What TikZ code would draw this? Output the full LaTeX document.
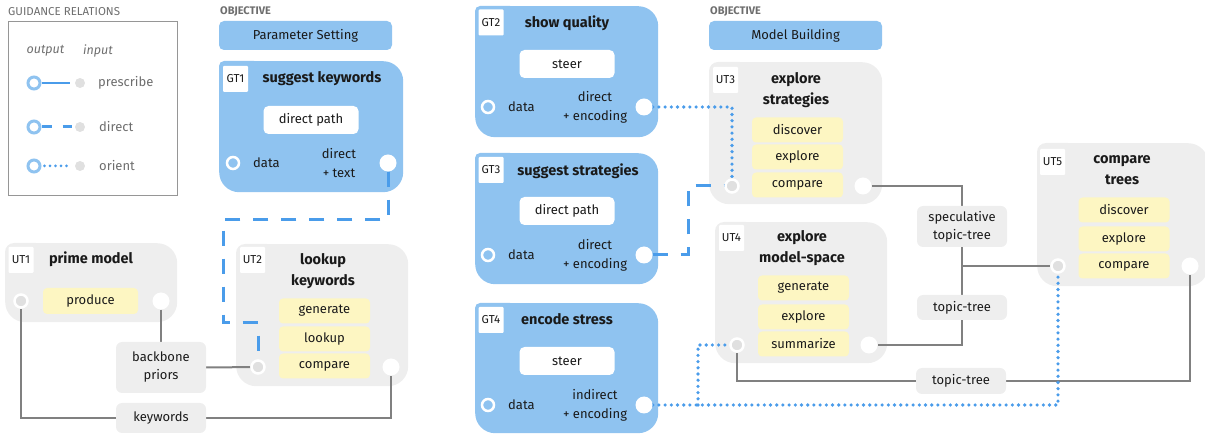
\documentclass[tikz,border=0pt]{standalone}
\usepackage{fontspec}
\setmainfont{Fira Sans}
\definecolor{gtblue}{RGB}{143,195,240}
\definecolor{lblue}{RGB}{74,156,234}
\definecolor{gfill}{RGB}{238,238,238}
\definecolor{ylw}{RGB}{253,246,194}
\definecolor{pgray}{RGB}{224,224,224}
\definecolor{lgray}{RGB}{128,128,128}
\definecolor{txt}{RGB}{26,26,26}
\definecolor{lgtxt}{RGB}{110,110,110}
\definecolor{legbox}{RGB}{150,150,150}
\pgfdeclarelayer{back}
\pgfdeclarelayer{mid}
\pgfsetlayers{back,mid,main}
\begin{document}
\begin{tikzpicture}[x=1pt,y=-1pt,
  every node/.style={inner sep=0pt, text=txt, font=\fontsize{13}{18}\selectfont},
  gtp/.style 2 args={fill=gtblue, rounded corners=20pt, anchor=north west, minimum width=#1, minimum height=#2},
  utp/.style 2 args={fill=gfill, rounded corners=20pt, anchor=north west, minimum width=#1, minimum height=#2},
  lbl/.style={fill=white, rounded corners=1pt, minimum width=25pt, minimum height=26pt, font=\fontsize{11.5}{13}\selectfont},
  ttl/.style={align=center, font=\fontsize{14.5}{21}\selectfont\bfseries},
  act/.style={fill=white, rounded corners=5pt, minimum width=95pt, minimum height=28pt},
  yel/.style={fill=ylw, rounded corners=4pt, minimum width=91pt, minimum height=25pt},
  gtag/.style={fill=gfill, rounded corners=6pt, minimum width=90pt, align=center},
  outp/.style={circle, fill=white, minimum size=17pt},
  inp/.style={circle, fill=pgray, draw=white, line width=2.5pt, minimum size=13pt},
  dport/.style={circle, fill=gtblue, draw=white, line width=2.5pt, minimum size=12pt},
  lout/.style={circle, fill=white, draw=gtblue, line width=3pt, minimum size=12pt},
  lin/.style={circle, fill=pgray, minimum size=10pt},
  gline/.style={draw=lgray, line width=2pt},
  dashc/.style={draw=lblue, line width=3pt, dash pattern=on 15pt off 13pt},
  dotc/.style={draw=lblue, line width=3.6pt, line cap=round, dash pattern=on 0pt off 6.2pt},
  gtxt/.style={align=center, font=\fontsize{13}{19}\selectfont},
]
\useasboundingbox (0,0) rectangle (1205,435);

% ---------- legend ----------
\node[anchor=west, text=lgtxt, font=\fontsize{11.5}{13}\selectfont] (legtitle) at (8,12) {GUIDANCE RELATIONS};
\node[draw=legbox, line width=1pt, anchor=north west, minimum width=169pt, minimum height=174pt] (legend) at (8,21) {};
\node[text=lgtxt, font=\fontsize{12.5}{15}\selectfont\itshape] (lout) at (45.5,51) {output};
\node[text=lgtxt, font=\fontsize{12.5}{15}\selectfont\itshape] (linp) at (98,51) {input};
\node[lout] (lo1) at (34,83) {};
\node[lin] (li1) at (80,83) {};
\node[lout] (lo2) at (34,127) {};
\node[lin] (li2) at (80,127) {};
\node[lout] (lo3) at (34,166) {};
\node[lin] (li3) at (80,166) {};
\draw[draw=lblue, line width=2pt, shorten >=5pt] (lo1) -- (li1);
\draw[draw=lblue, line width=3pt, dash pattern=on 10pt off 11pt, shorten >=3pt] (lo2) -- (li2);
\draw[dotc, line width=3pt, dash pattern=on 0pt off 5.5pt, shorten <=3pt, shorten >=6pt] (lo3) -- (li3);
\node[anchor=west, text=lgtxt] (lt1) at (98,83) {prescribe};
\node[anchor=west, text=lgtxt] (lt2) at (99,127) {direct};
\node[anchor=west, text=lgtxt] (lt3) at (99,166) {orient};

% ---------- objectives ----------
\node[anchor=west, text=lgtxt, font=\fontsize{11}{12}\selectfont\bfseries] (objl1) at (220,12) {OBJECTIVE};
\node[fill=gtblue, rounded corners=5pt, minimum width=173pt, minimum height=29pt] (obj1) at (305.5,35.5) {Parameter Setting};
\node[anchor=west, text=lgtxt, font=\fontsize{11}{12}\selectfont\bfseries] (objl2) at (710,12) {OBJECTIVE};
\node[fill=gtblue, rounded corners=5pt, minimum width=173pt, minimum height=29pt] (obj2) at (795.5,35.5) {Model Building};

% ---------- panels ----------
\begin{pgfonlayer}{back}
\node[gtp={184pt}{131pt}] (GT1) at (219,61) {};
\node[gtp={183pt}{131pt}] (GT2) at (475,6) {};
\node[gtp={183pt}{131pt}] (GT3) at (475,153) {};
\node[gtp={183pt}{130pt}] (GT4) at (475,303) {};
\foreach \p in {GT1,GT2,GT3,GT4}{\fill[gtblue, rounded corners=5pt] (\p.north west) rectangle ++(40,40);}
\node[utp={172pt}{79pt}] (UT1) at (5,243) {};
\node[utp={172pt}{142pt}] (UT2) at (236,244) {};
\node[utp={173pt}{142pt}] (UT3) at (709,62) {};
\node[utp={172pt}{141pt}] (UT4) at (715,222) {};
\node[utp={171pt}{143pt}] (UT5) at (1037,143) {};
\foreach \p in {UT1,UT2,UT3,UT4,UT5}{\fill[gfill, rounded corners=9pt] (\p.north west) rectangle ++(40,40);}
\end{pgfonlayer}

% ---------- GT contents ----------
\node[lbl] (GT1l) at (235.5,79) {GT1};
\node[ttl] (GT1t) at (322,79) {suggest keywords};
\node[act] (GT1a) at (311,120) {direct path};
\node[dport] (GT1in) at (233,163) {};
\node[anchor=west] (GT1d) at (253,163) {data};
\node[gtxt] (GT1o) at (339,163) {direct\\+ text};
\node[outp] (GT1out) at (388,163) {};

\node[lbl] (GT2l) at (491,22.5) {GT2};
\node[ttl] (GT2t) at (567,23) {show quality};
\node[act] (GT2a) at (567,64) {steer};
\node[dport] (GT2in) at (488,107) {};
\node[anchor=west] (GT2d) at (508,107) {data};
\node[gtxt] (GT2o) at (595,107) {direct\\+ encoding};
\node[outp] (GT2out) at (644,107) {};

\node[lbl] (GT3l) at (491,170) {GT3};
\node[ttl] (GT3t) at (578,171) {suggest strategies};
\node[act] (GT3a) at (567,211) {direct path};
\node[dport] (GT3in) at (488,255) {};
\node[anchor=west] (GT3d) at (508,255) {data};
\node[gtxt] (GT3o) at (595,255) {direct\\+ encoding};
\node[outp] (GT3out) at (644,255) {};

\node[lbl] (GT4l) at (491,320) {GT4};
\node[ttl] (GT4t) at (567,319) {encode stress};
\node[act] (GT4a) at (567,361) {steer};
\node[dport] (GT4in) at (488,405) {};
\node[anchor=west] (GT4d) at (508,405) {data};
\node[gtxt] (GT4o) at (595,405) {indirect\\+ encoding};
\node[outp] (GT4out) at (644,405) {};

% ---------- UT contents ----------
\node[lbl] (UT1l) at (21,260) {UT1};
\node[ttl] (UT1t) at (91,259) {prime model};
\node[yel, minimum width=95pt, minimum height=26pt] (UT1a) at (90.5,301) {produce};
\node[inp] (UT1in) at (21,301) {};
\node[outp] (UT1out) at (161,301) {};

\node[lbl] (UT2l) at (252.5,260) {UT2};
\node[ttl] (UT2t) at (323,271) {lookup\\keywords};
\node[yel] (UT2a) at (324.5,311) {generate};
\node[yel] (UT2b) at (324.5,339) {lookup};
\node[yel] (UT2c) at (324.5,366) {compare};
\node[inp] (UT2in) at (258,367) {};
\node[outp] (UT2out) at (391,367) {};

\node[lbl] (UT3l) at (725.5,80) {UT3};
\node[ttl] (UT3t) at (796,90) {explore\\strategies};
\node[yel] (UT3a) at (797.5,130) {discover};
\node[yel] (UT3b) at (797.5,157) {explore};
\node[yel] (UT3c) at (797.5,185) {compare};
\node[inp] (UT3in) at (732,186) {};
\node[outp] (UT3out) at (863,186) {};

\node[lbl] (UT4l) at (731.5,238) {UT4};
\node[ttl] (UT4t) at (802,248) {explore\\model-space};
\node[yel] (UT4a) at (803.5,288) {generate};
\node[yel] (UT4b) at (803.5,317) {explore};
\node[yel] (UT4c) at (803.5,344) {summarize};
\node[inp] (UT4in) at (737,345) {};
\node[outp] (UT4out) at (869,345) {};

\node[lbl] (UT5l) at (1052.5,162) {UT5};
\node[ttl] (UT5t) at (1122,170) {compare\\trees};
\node[yel] (UT5a) at (1124,210) {discover};
\node[yel] (UT5b) at (1124,239) {explore};
\node[yel] (UT5c) at (1124,266) {compare};
\node[inp] (UT5in) at (1058,266) {};
\node[outp] (UT5out) at (1190,266) {};

% ---------- tags ----------
\node[gtag, minimum height=51pt] (bp) at (161,367.5) {backbone\\priors};
\node[gtag, minimum height=30pt] (kw) at (161,418) {keywords};
\node[gtag, minimum height=41pt] (stt) at (962,226.5) {speculative\\topic-tree};
\node[gtag, minimum height=25pt] (tt1) at (962,307.5) {topic-tree};
\node[gtag, minimum height=26pt] (tt2) at (961,381) {topic-tree};

% ---------- connectors ----------
\begin{pgfonlayer}{mid}
\draw[gline] (UT1out) -- (bp.north);
\draw[gline] (bp.east) -- (UT2in);
\draw[gline] (UT1in) |- (kw.west);
\draw[gline] (kw.east) -| (UT2out);
\draw[gline] (UT3out) -| (stt.north);
\draw[gline] (stt.south) -- (tt1.north);
\coordinate (j1) at (962,266);
\draw[gline] (j1) -- (UT5in);
\draw[gline] (tt1.south) |- (UT4out);
\draw[gline] (UT4in) |- (tt2.west);
\draw[gline] (tt2.east) -| (UT5out);

\draw[dashc] (GT1out) -- (388,220) -| (223,323) -| (UT2in);
\draw[dashc] (GT3out) -- (688,255) |- (UT3in);
\draw[dotc] (GT2out) -| (UT3in);
\draw[dotc] (GT4out) -| (UT5in);
\coordinate (j2) at (698,405);
\draw[dotc] (j2) |- (UT4in);
\end{pgfonlayer}
\end{tikzpicture}
\end{document}
